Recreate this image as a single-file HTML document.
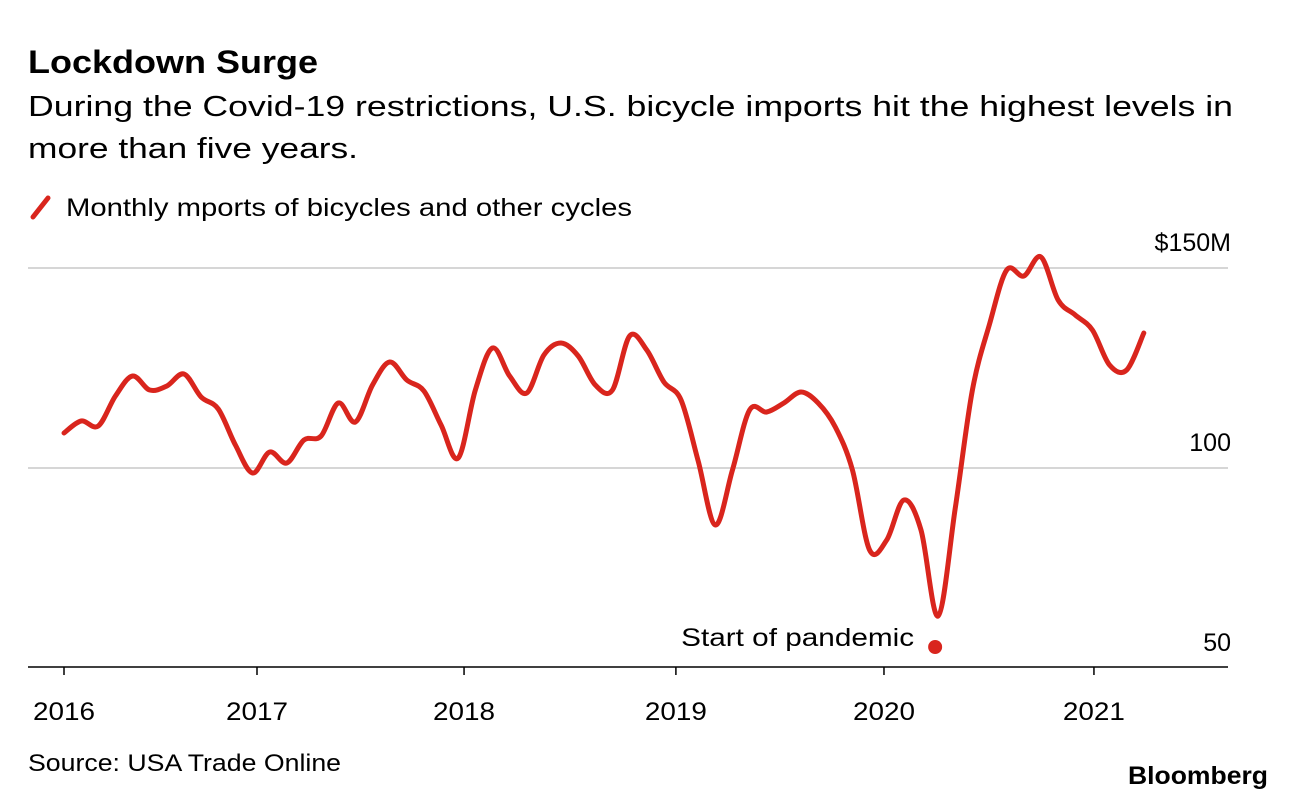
<!DOCTYPE html>
<html><head><meta charset="utf-8"><style>
body{margin:0;background:#fff;font-family:"Liberation Sans",Arial,sans-serif;}
svg{display:block}
</style></head><body>
<svg id="chart" width="1296" height="802">
<text x="28" y="73" font-size="32" font-weight="bold" fill="#000" textLength="290" lengthAdjust="spacingAndGlyphs">Lockdown Surge</text>
<text x="28" y="116" font-size="29" fill="#000" textLength="1205" lengthAdjust="spacingAndGlyphs">During the Covid-19 restrictions, U.S. bicycle imports hit the highest levels in</text>
<text x="28" y="158" font-size="29" fill="#000" textLength="330" lengthAdjust="spacingAndGlyphs">more than five years.</text>
<line x1="33" y1="217" x2="48" y2="198" stroke="#d9251d" stroke-width="5" stroke-linecap="round"/>
<text x="66" y="216" font-size="25" fill="#000" textLength="566" lengthAdjust="spacingAndGlyphs">Monthly mports of bicycles and other cycles</text>
<g id="grid"></g><g id="axis"></g><g id="series"></g>
<text x="28" y="771" font-size="24" fill="#000" textLength="313" lengthAdjust="spacingAndGlyphs">Source: USA Trade Online</text>
<text x="1268" y="784" font-size="25" font-weight="bold" text-anchor="end" fill="#000" textLength="140" lengthAdjust="spacingAndGlyphs">Bloomberg</text>
</svg>
<script>
const values=[108.75,111.75,110.5,118,123,119.5,120.5,123.5,117.75,114.75,105.75,98.75,104,101.25,107,108,116.25,111.5,120.75,126.5,122,119.25,110.75,102.5,119.5,130,123,118.75,128.25,131.25,128,120.75,119.5,133,129.5,121.5,117,101.75,85.75,99.5,114.5,114,116.25,119,116.25,110.25,99.5,79.5,82,92,84.5,63,90,119.5,136,149.5,148,152.75,142,138.25,134.5,125.75,124.5,133.75];
const yTicks=[150,100,50];
const yTickLabels=["$150M","100","50"];
const xTickLabels=["2016","2017","2018","2019","2020","2021"];
const xTickIndex=[0,11.26,23.34,35.7,47.84,60.09];
const pandemicIndex=51;
const pandemicValue=55.25;

const NS="http://www.w3.org/2000/svg";
const x=i=>64+i*17.14;
const y=v=>268+(150-v)*4;
function mk(tag,attrs,parent){const e=document.createElementNS(NS,tag);for(const k in attrs)e.setAttribute(k,attrs[k]);parent.appendChild(e);return e;}
const grid=document.getElementById('grid'),axis=document.getElementById('axis'),series=document.getElementById('series');
yTicks.forEach((t,k)=>{
  if(t!==50){const l=mk('line',{x1:28,x2:1228,y1:y(t),y2:y(t),stroke:'#d6d6d6','stroke-width':2},grid);
  
  }
  const tx=mk('text',{x:1231,y:y(t)-17,'font-size':25,'text-anchor':'end',fill:'#000'},axis);
  tx.textContent=yTickLabels[k];
  
  
});
const base=mk('line',{x1:28,x2:1228,y1:y(50)-1,y2:y(50)-1,stroke:'#000','stroke-width':1.5},axis);


xTickLabels.forEach((lab,k)=>{
  const xx=x(xTickIndex[k]);
  const tk=mk('line',{x1:xx,x2:xx,y1:y(50)-1,y2:y(50)+7,stroke:'#000','stroke-width':1.5},axis);
  
  
  const tx=mk('text',{x:xx,y:720,'font-size':25,'text-anchor':'middle',fill:'#000',textLength:62,lengthAdjust:'spacingAndGlyphs'},axis);
  tx.textContent=lab;
  
  
});
const pts=values.map((v,i)=>[x(i),y(v)]);
let d='M'+pts[0][0]+','+pts[0][1];
for(let i=0;i<pts.length-1;i++){
  const p0=pts[Math.max(0,i-1)],p1=pts[i],p2=pts[i+1],p3=pts[Math.min(pts.length-1,i+2)];
  const c1=[p1[0]+(p2[0]-p0[0])/6,p1[1]+(p2[1]-p0[1])/6];
  const c2=[p2[0]-(p3[0]-p1[0])/6,p2[1]-(p3[1]-p1[1])/6];
  d+=`C${c1[0]},${c1[1]} ${c2[0]},${c2[1]} ${p2[0]},${p2[1]}`;
}
const line=mk('path',{d:d,fill:'none',stroke:'#d9251d','stroke-width':5,'stroke-linejoin':'round','stroke-linecap':'round'},series);


const dot=mk('circle',{cx:x(pandemicIndex)-3,cy:y(pandemicValue),r:7,fill:'#d9251d'},series);


const lbl=mk('text',{x:x(pandemicIndex)-24,y:y(pandemicValue)-1,'font-size':25,'text-anchor':'end',fill:'#000',textLength:233,lengthAdjust:'spacingAndGlyphs'},series);
lbl.textContent='Start of pandemic';


</script>
</body></html>
